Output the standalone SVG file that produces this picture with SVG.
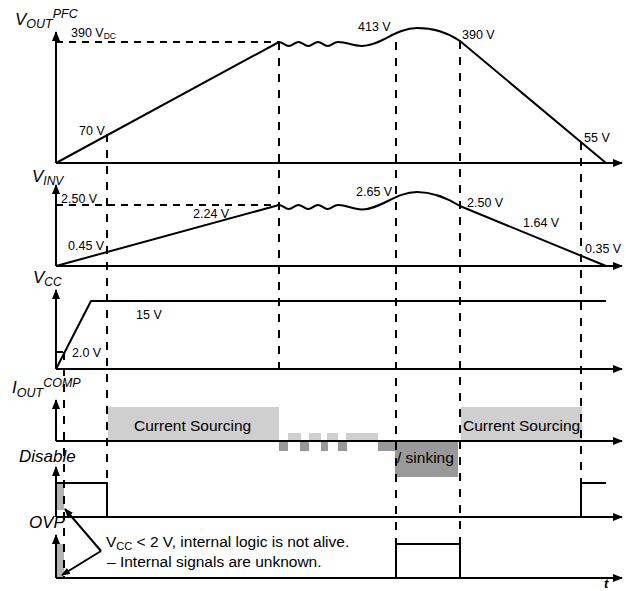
<svg xmlns="http://www.w3.org/2000/svg" width="626" height="591" viewBox="0 0 626 591">
<style>
.ax{stroke:#000;stroke-width:2;fill:none}
.wf{stroke:#000;stroke-width:2;fill:none;stroke-linejoin:round}
.dv{stroke:#000;stroke-width:2;stroke-dasharray:8 8;fill:none}
.dh{stroke:#000;stroke-width:2;stroke-dasharray:7 6;fill:none}
.lt{fill:#cfcfcf}
.dk{fill:#999999}
.md{fill:#b3b3b3}
text{font-family:"Liberation Sans",Arial,Helvetica,sans-serif;fill:#000}
.v{font-size:12.5px}
.sig{font-size:17px;font-style:italic}
.sub{font-size:12.5px}
.box{font-size:15.5px}
.note{font-size:15.5px}
</style>
<defs>
<marker id="ah" markerUnits="userSpaceOnUse" markerWidth="10" markerHeight="8" refX="9" refY="4" orient="auto">
<path d="M0,0 L10,4 L0,8 z" fill="#000"/>
</marker>
<marker id="ah2" markerUnits="userSpaceOnUse" markerWidth="9" markerHeight="7" refX="8" refY="3.5" orient="auto">
<path d="M0,0 L9,3.5 L0,7 z" fill="#000"/>
</marker>
<clipPath id="cs2"><rect x="461" y="405" width="120" height="38"/></clipPath>
</defs>

<g id="fills">
<rect class="lt" x="108" y="407" width="171" height="34"/>
<rect class="lt" x="461" y="407" width="121" height="34"/>
<rect class="lt" x="288" y="433" width="13" height="8"/>
<rect class="lt" x="309" y="433" width="12" height="8"/>
<rect class="lt" x="327" y="433" width="11" height="8"/>
<rect class="lt" x="346" y="433" width="32" height="8"/>
<rect class="dk" x="279" y="441" width="9" height="10"/>
<rect class="dk" x="300" y="441" width="9" height="10"/>
<rect class="dk" x="321" y="441" width="7" height="10"/>
<rect class="dk" x="338" y="441" width="9" height="10"/>
<rect class="dk" x="378" y="441" width="18" height="10"/>
<rect class="dk" x="395" y="441" width="63" height="36"/>
<rect class="md" x="57" y="484" width="7" height="26"/>
<rect class="md" x="57" y="544" width="7" height="34"/>
</g>

<g id="connectors">
<line class="dh" x1="56" y1="42" x2="279" y2="42"/>
<line class="dh" x1="56" y1="205" x2="279" y2="205"/>
<line class="dh" x1="56" y1="352" x2="64" y2="352"/>
<line class="dv" x1="107" y1="134" x2="107" y2="483"/>
<line class="dv" x1="279" y1="42" x2="279" y2="369"/>
<line class="dv" x1="396" y1="42" x2="396" y2="544"/>
<line class="dv" x1="460" y1="41" x2="460" y2="544"/>
<line class="dv" x1="581" y1="142" x2="581" y2="483"/>
<line class="dv" x1="64" y1="352" x2="64" y2="578"/>
<line class="ax" x1="101" y1="551" x2="65" y2="509" marker-end="url(#ah2)"/>
<line class="ax" x1="101" y1="551" x2="62" y2="575" marker-end="url(#ah2)"/>
</g>

<g id="axes">
<line class="ax" x1="56" y1="163" x2="56" y2="32" marker-end="url(#ah)"/>
<line class="ax" x1="56" y1="163" x2="622" y2="163" marker-end="url(#ah)"/>
<line class="ax" x1="56" y1="266" x2="56" y2="185" marker-end="url(#ah)"/>
<line class="ax" x1="56" y1="266" x2="622" y2="266" marker-end="url(#ah)"/>
<line class="ax" x1="56" y1="369" x2="56" y2="290" marker-end="url(#ah)"/>
<line class="ax" x1="56" y1="369" x2="622" y2="369" marker-end="url(#ah)"/>
<line class="ax" x1="56" y1="441" x2="56" y2="400" marker-end="url(#ah)"/>
<line class="ax" x1="56" y1="441" x2="622" y2="441" marker-end="url(#ah)"/>
<line class="ax" x1="56" y1="517" x2="56" y2="467" marker-end="url(#ah)"/>
<line class="ax" x1="56" y1="517" x2="622" y2="517" marker-end="url(#ah)"/>
<line class="ax" x1="56" y1="578" x2="56" y2="535" marker-end="url(#ah)"/>
<line class="ax" x1="56" y1="578" x2="622" y2="578" marker-end="url(#ah)"/>
</g>

<g id="vout">
<path class="wf" d="M56,163 L279,42 c3.5,0 6,4 9.75,4 s6.250,-4 9.75,-4 s6,4 9.75,4 s6.25,-4 9.75,-4 s6,4 9.75,4 s6.25,-4 9.75,-4 C346,41.5 352,46 362,46 C380,46 396,28 417,28 C433,28 447,32 460,41 L606,163"/>
<text class="sig" x="15" y="25" font-size="18">V<tspan class="sub" dy="3">OUT</tspan><tspan class="sub" dy="-10">PFC</tspan></text>
<text class="v" x="71" y="37">390 V<tspan font-size="8.5" dy="2">DC</tspan></text>
<text class="v" x="79" y="135">70 V</text>
<text class="v" x="358" y="31">413 V</text>
<text class="v" x="462" y="39">390 V</text>
<text class="v" x="584" y="141.5">55 V</text>
</g>

<g id="vinv">
<path class="wf" d="M56,266 L279,205 c3.5,0 6,4 9.75,4 s6.25,-4 9.75,-4 s6,4 9.75,4 s6.25,-4 9.75,-4 s6,4 9.75,4 s6.25,-4 9.75,-4 C346,204.5 352,209.5 362,209.5 C380,209.5 396,192 417,192 C433,192 447,198 460,206 L606,266"/>
<text class="sig" x="32" y="182">V<tspan font-size="12" dy="3">INV</tspan></text>
<text class="v" x="61" y="203">2.50 V</text>
<text class="v" x="193" y="218">2.24 V</text>
<text class="v" x="68" y="250">0.45 V</text>
<text class="v" x="356" y="196">2.65 V</text>
<text class="v" x="467" y="207">2.50 V</text>
<text class="v" x="523" y="227">1.64 V</text>
<text class="v" x="585" y="253">0.35 V</text>
</g>

<g id="vcc">
<path class="wf" d="M56,369 L91,301 L606,301"/>
<text class="sig" x="33" y="283">V<tspan font-size="12" dy="3">CC</tspan></text>
<text class="v" x="136" y="319">15 V</text>
<text class="v" x="72" y="357">2.0 V</text>
</g>

<g id="iout">
<text class="sig" x="12" y="393">I<tspan class="sub" dy="4">OUT</tspan><tspan class="sub" dy="-10">COMP</tspan></text>
<text class="box" x="134" y="431">Current Sourcing</text>
<text class="box" x="463" y="431" clip-path="url(#cs2)">Current Sourcing</text>
<text class="box" x="397" y="463">/ sinking</text>
</g>

<g id="disable">
<path class="wf" d="M56,483 L107,483 L107,517"/>
<path class="wf" d="M581,517 L581,483 L606,483"/>
<text class="sig" x="19" y="462" font-size="16">Disable</text>
</g>

<g id="ovp">
<path class="wf" d="M396,578 L396,544 L460,544 L460,578"/>
<text class="sig" x="29" y="528" font-size="16">OVP</text>
<text x="604" y="588" font-size="13" font-style="italic" font-weight="bold">t</text>
</g>

<g id="note">
<text class="note" x="106" y="547">V<tspan font-size="11" dy="3">CC</tspan><tspan dy="-3"> &lt; 2 V, internal logic is not alive.</tspan></text>
<text class="note" x="107" y="567">– Internal signals are unknown.</text>
</g>
</svg>
